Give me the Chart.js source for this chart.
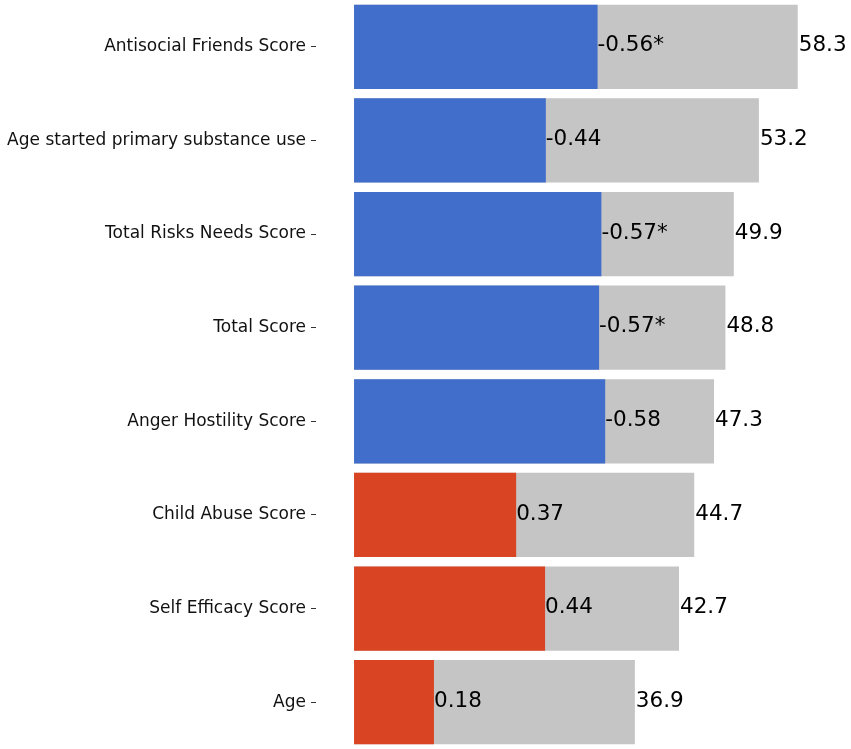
<!DOCTYPE html>
<html>
<head>
<meta charset="utf-8">
<script src="https://cdn.jsdelivr.net/npm/chart.js@4.4.1/dist/chart.umd.min.js"></script>
<style>
  html, body { margin: 0; padding: 0; background: #fff; }
  #wrap { width: 851px; height: 749px; }
</style>
</head>
<body>
<div id="wrap"><canvas id="myChart"></canvas></div>
<script>
// categories, top to bottom
const categories = [
    "Antisocial Friends Score",
    "Age started primary substance use",
    "Total Risks Needs Score",
    "Total Score",
    "Anger Hostility Score",
    "Child Abuse Score",
    "Self Efficacy Score",
    "Age"
];

// grey bars (score)
const scores = [58.3, 53.2, 49.9, 48.8, 47.3, 44.7, 42.7, 36.9];

// coloured bars (length, same units as the grey ones)
const corrLengths = [32.0, 25.2, 32.5, 32.2, 33.0, 21.3, 25.1, 10.5];

// correlation labels
const corrLabels = ["-0.56*", "-0.44", "-0.57*", "-0.57*", "-0.58", "0.37", "0.44", "0.18"];

const BLUE = "#416ecb";
const RED = "#d94522";
const GREY = "#c5c5c5";

const corrColors = corrLabels.map(l => l.startsWith("-") ? BLUE : RED);

// draws the numbers at the end of each bar
const endLabels = {
    id: "endLabels",
    afterDatasetsDraw(chart) {
        const ctx = chart.ctx;
        ctx.save();
        ctx.font = "21.5px 'DejaVu Sans'";
        ctx.fillStyle = "#000";
        ctx.textAlign = "left";
        ctx.textBaseline = "middle";
        chart.getDatasetMeta(0).data.forEach((bar, i) => {
            ctx.fillText(corrLabels[i], bar.x, bar.y - 1);
        });
        chart.getDatasetMeta(1).data.forEach((bar, i) => {
            ctx.fillText(scores[i].toFixed(1), bar.x + 1, bar.y - 1);
        });
        ctx.restore();
    }
};

const ctx = document.getElementById("myChart").getContext("2d");

const chart = new Chart(ctx, {
    type: "bar",
    data: {
        labels: categories,
        datasets: [
            {
                data: corrLengths,
                backgroundColor: corrColors,
                grouped: false,
                order: 0,
                barPercentage: 0.9,
                categoryPercentage: 1
            },
            {
                data: scores,
                backgroundColor: GREY,
                grouped: false,
                order: 1,
                barPercentage: 0.9,
                categoryPercentage: 1
            }
        ]
    },
    options: {
        indexAxis: "y",
        responsive: true,
        maintainAspectRatio: false,
        animation: false,
        layout: { padding: 0 },
        plugins: {
            legend: { display: false },
            tooltip: { enabled: false }
        },
        scales: {
            x: {
                display: false,
                min: -5,
                max: 65.3
            },
            y: {
                offset: true,
                border: { display: false },
                grid: {
                    offset: false,
                    drawOnChartArea: false,
                    drawTicks: true,
                    tickLength: 5,
                    color: "#333",
                    lineWidth: 1
                },
                ticks: {
                    padding: 5,
                    color: "#111",
                    font: { family: "'DejaVu Sans'", size: 17 }
                },
                afterFit(scale) {
                    scale.width = 316;
                    // no extra room above/below the first and last label
                    scale.paddingTop = 0;
                    scale.paddingBottom = 0;
                }
            }
        }
    },
    plugins: [endLabels]
});
</script>
</body>
</html>
